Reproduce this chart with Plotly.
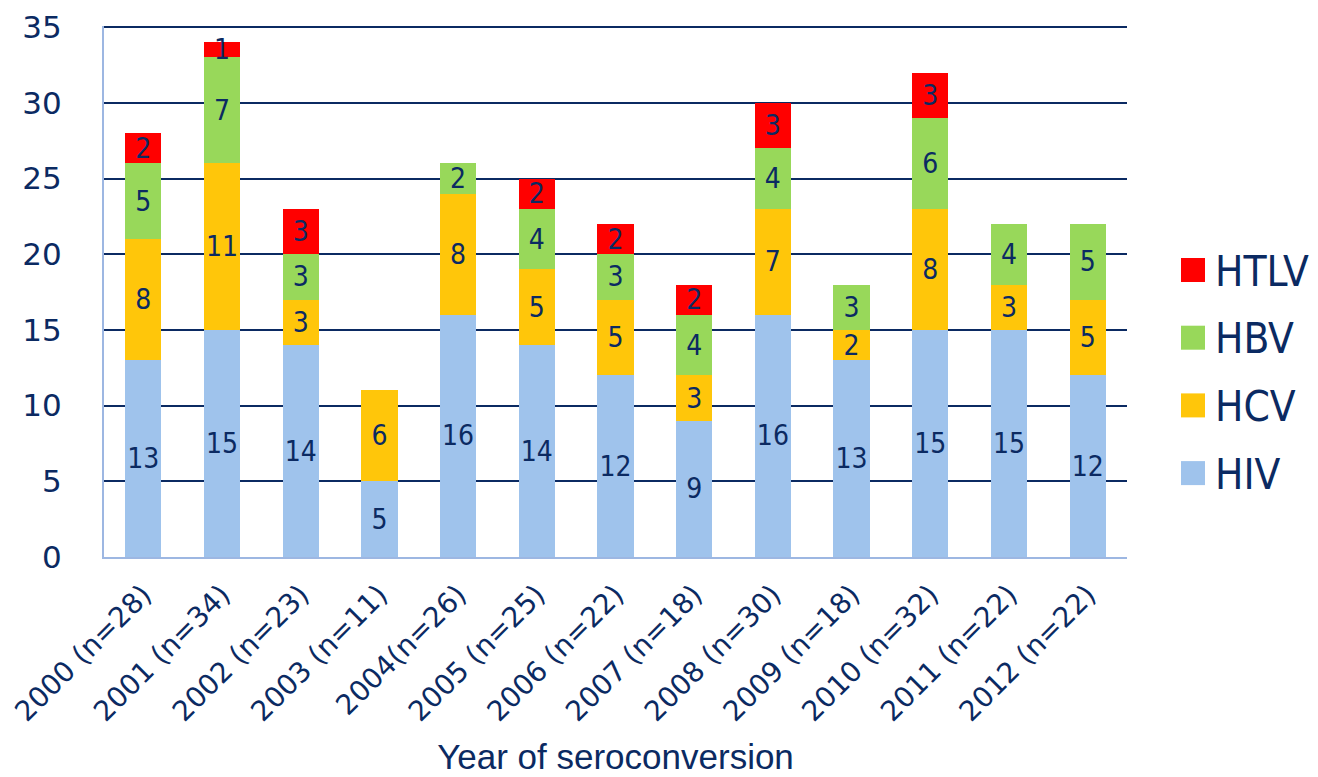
import plotly.graph_objects as go

categories = ["2000 (n=28)", "2001 (n=34)", "2002 (n=23)", "2003 (n=11)", "2004(n=26)",
              "2005 (n=25)", "2006 (n=22)", "2007 (n=18)", "2008 (n=30)", "2009 (n=18)",
              "2010 (n=32)", "2011 (n=22)", "2012 (n=22)"]
hiv = [13, 15, 14, 5, 16, 14, 12, 9, 16, 13, 15, 15, 12]
hcv = [8, 11, 3, 6, 8, 5, 5, 3, 7, 2, 8, 3, 5]
hbv = [5, 7, 3, 0, 2, 4, 3, 4, 4, 3, 6, 4, 5]
htlv = [2, 1, 3, 0, 0, 2, 2, 2, 3, 0, 3, 0, 0]

series = [("HIV", hiv, "#9FC3EC"), ("HCV", hcv, "#FFC60A"),
          ("HBV", hbv, "#98D85A"), ("HTLV", htlv, "#FF0000")]

navy = "#0B2A62"
W, H = 1318, 777
OFF = 8  # page body margin
L, T = 104 - OFF, 26 - OFF
pw, ph = 1023, 531
R, B = W - L - pw, H - T - ph

fig = go.Figure()
for name, vals, col in series:
    fig.add_trace(go.Bar(
        x=categories, y=vals, name=name, showlegend=False,
        marker=dict(color=col, line=dict(width=0)),
        text=[str(v) if v else "" for v in vals],
        textposition="inside", insidetextanchor="middle",
        textangle=0, constraintext="none",
        textfont=dict(family="DejaVu Sans Condensed, DejaVu Sans", size=28, color=navy),
        hoverinfo="skip",
    ))

# legend drawn manually (top to bottom: HTLV, HBV, HCV, HIV)
def px_x(x):
    return (x - OFF - L) / pw

def px_y(y):
    return (T + ph - (y - OFF)) / ph

shapes, annos = [], []
leg_y0, leg_step, sq = 270, 67.7, 24
for i, (name, vals, col) in enumerate(reversed(series)):
    cy = leg_y0 + i * leg_step
    shapes.append(dict(type="rect", xref="paper", yref="paper",
                       x0=px_x(1181), x1=px_x(1181 + sq),
                       y0=px_y(cy + sq / 2), y1=px_y(cy - sq / 2),
                       fillcolor=col, line=dict(width=0)))
    annos.append(dict(xref="paper", yref="paper", x=px_x(1213), y=px_y(cy + 1),
                      xanchor="left", yanchor="middle", showarrow=False, text=name,
                      font=dict(family="DejaVu Sans Condensed, DejaVu Sans", size=42, color=navy)))

fig.update_layout(
    barmode="stack", bargap=0.54,
    width=W, height=H,
    margin=dict(l=L, r=R, t=T, b=B, autoexpand=False),
    plot_bgcolor="white", paper_bgcolor="white",
    uniformtext=dict(minsize=10, mode="show"),
    showlegend=False,
    shapes=shapes, annotations=annos,
    xaxis=dict(
        automargin=False,
        showline=True, linecolor="#9DB7E2", linewidth=2,
        tickangle=-45, ticks="", ticklabelstandoff=8,
        tickfont=dict(family="DejaVu Sans", size=28, color=navy),
        title=dict(text="Year of seroconversion",
                   font=dict(family="Liberation Sans, Arial", size=35, color=navy),
                   standoff=18),
    ),
    yaxis=dict(
        automargin=False,
        range=[0, 35.08], tickvals=[0, 5, 10, 15, 20, 25, 30, 35],
        showline=True, linecolor="#9DB7E2", linewidth=2,
        showgrid=True, gridcolor=navy, gridwidth=2,
        tickfont=dict(family="DejaVu Sans", size=31, color=navy),
        ticks="", ticklen=0, ticklabelstandoff=34,
        zeroline=False,
    ),
)

fig.write_html("out.html")
